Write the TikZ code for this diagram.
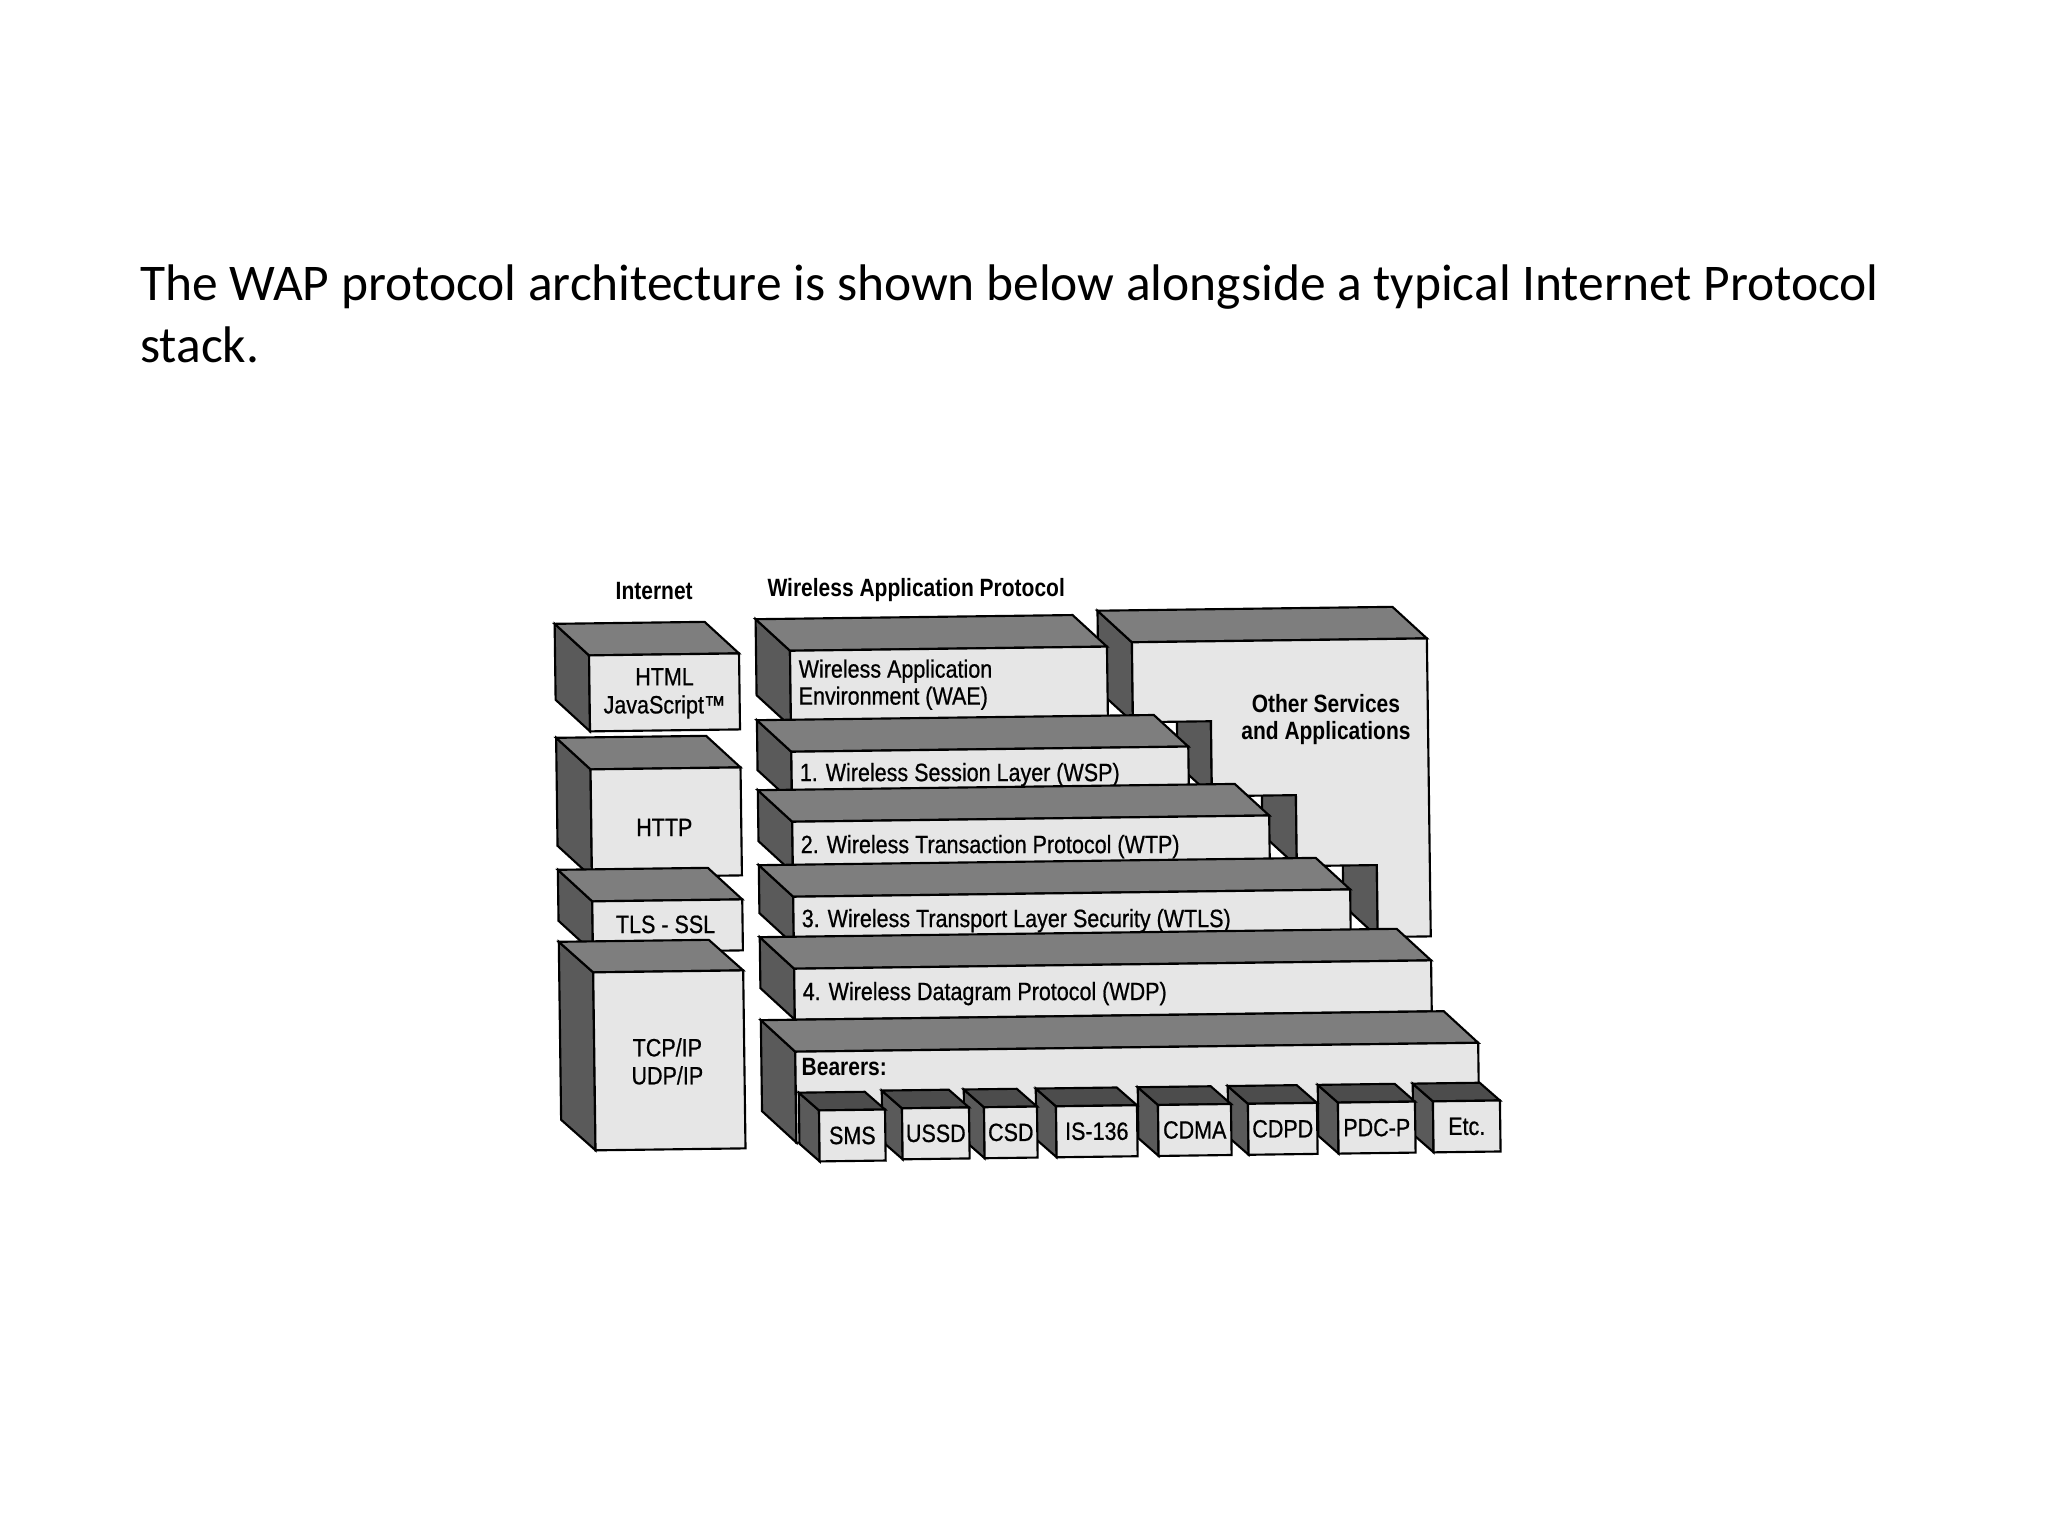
\documentclass[tikz,border=0pt]{standalone}
\usepackage{fontspec}
\setmainfont{Carlito}
\newfontfamily\condfont[FakeStretch=0.86, FakeBold=0.7]{Liberation Sans}
\newfontfamily\labelfont[FakeStretch=0.84]{Liberation Sans}
\definecolor{frontc}{HTML}{E6E6E6}
\definecolor{topc}{HTML}{7E7E7E}
\definecolor{sidec}{HTML}{5A5A5A}
\definecolor{smalltopc}{HTML}{4C4C4C}
\tikzset{
  face/.style={draw=black, line width=1.6pt, line join=miter},
  frontface/.style={face, fill=frontc},
  topface/.style={face, fill=topc},
  sideface/.style={face, fill=sidec},
  smalltop/.style={face, fill=smalltopc},
  boxtext/.style={inner sep=0pt, font=\condfont\fontsize{18.75}{21}\selectfont, text=black},
  labeltext/.style={inner sep=0pt, font=\labelfont\bfseries\fontsize{18.75}{20.5}\selectfont, text=black},
  titletext/.style={inner sep=0pt, font=\fontsize{38.6}{46}\selectfont, text=black},
}
% #1 left x, #2 top y, #3 right x, #4 bottom y, #5 depth x, #6 depth y, #7 style of top face
\newcommand{\drawslab}[7]{%
  \filldraw[sideface] (#1,#2) -- ({#1-#5},{#2-#6}) -- ({#1-#5},{#4-#6}) -- (#1,#4) -- cycle;
  \filldraw[#7] (#1,#2) -- ({#1-#5},{#2-#6}) -- ({#3-#5},{#2-#6}) -- (#3,#2) -- cycle;
  \filldraw[frontface] (#1,#2) rectangle (#3,#4);
}
\begin{document}
\begin{tikzpicture}[x=0.75pt, y=-0.75pt]
\useasboundingbox (0,0) rectangle (2048,1536);
\fill[white] (0,0) rectangle (2048,1536);

\node[titletext, anchor=base west] (title1) at (140,300) {The WAP protocol architecture is shown below alongside a typical Internet Protocol};
\node[titletext, anchor=base west] (title2) at (140,362) {stack.};

\begin{scope}[rotate around={0.75:(1000,880)}]
  % column headings
  \node[labeltext] (inet) at (658,586) {Internet};
  \node[labeltext] (waplabel) at (920,589) {Wireless Application Protocol};

  % Internet stack
  \drawslab{592}{650}{742}{726}{34}{32}{topface}
  \drawslab{592}{764}{742}{872}{34}{32}{topface}
  \drawslab{592}{896}{742}{947}{34}{32}{topface}
  \drawslab{592}{967}{742}{1145}{34}{31}{topface}
  \node[boxtext, align=center] (html) at (667,689) {HTML\\JavaScript™};
  \node[boxtext] (http) at (665,823) {HTTP};
  \node[boxtext] (tls) at (665,920) {TLS - SSL};
  \node[boxtext, align=center] (tcp) at (665,1057) {TCP/IP\\UDP/IP};

  % Other services block (stepped)
  \filldraw[sideface] (1135,644) -- (1101,612) -- (1101,692) -- (1135,724) -- cycle;
  \filldraw[sideface] (1213,724) -- (1179,692) -- (1179,767) -- (1213,799) -- cycle;
  \filldraw[sideface] (1297,799) -- (1263,767) -- (1263,838) -- (1297,870) -- cycle;
  \filldraw[sideface] (1377,870) -- (1343,838) -- (1343,910) -- (1377,942) -- cycle;
  \filldraw[topface] (1135,644) -- (1101,612) -- (1396,612) -- (1430,644) -- cycle;
  \filldraw[frontface] (1135,644) -- (1430,644) -- (1430,942) -- (1377,942) -- (1377,870)
     -- (1297,870) -- (1297,799) -- (1213,799) -- (1213,724) -- (1135,724) -- cycle;
  \node[labeltext, align=center, font=\labelfont\bfseries\fontsize{18.75}{20.25}\selectfont] (other) at (1328,724) {Other Services\\and Applications};

  % WAP layers
  \drawslab{793}{648}{1110}{724}{34}{32}{topface}
  \node[boxtext, anchor=west, align=left, font=\condfont\fontsize{18.75}{20.25}\selectfont] (wae) at (801,682) {Wireless Application\\Environment (WAE)};
  \drawslab{793}{749}{1190}{799}{34}{32}{topface}
  \node[boxtext, anchor=west] (wsp) at (801,772) {1. Wireless Session Layer (WSP)};
  \drawslab{793}{819}{1270}{870}{34}{32}{topface}
  \node[boxtext, anchor=west] (wtp) at (801,844) {2. Wireless Transaction Protocol (WTP)};
  \drawslab{793}{894}{1350}{942}{34}{32}{topface}
  \node[boxtext, anchor=west] (wtls) at (801,918) {3. Wireless Transport Layer Security (WTLS)};
  \drawslab{793}{966}{1430}{1017}{34}{32}{topface}
  \node[boxtext, anchor=west] (wdp) at (801,991) {4. Wireless Datagram Protocol (WDP)};
  \drawslab{793}{1049}{1476}{1140}{34}{32}{topface}
  \node[labeltext, anchor=west] (bearers) at (799,1064) {Bearers:};

  % bearer boxes (right to left)
  \drawslab{1430}{1107}{1497}{1158}{20}{18}{smalltop}
  \node[boxtext] (etc) at (1463.5,1132.5) {Etc.};
  \drawslab{1335}{1107}{1412}{1158}{20}{18}{smalltop}
  \node[boxtext] (pdcp) at (1373.5,1132.5) {PDC-P};
  \drawslab{1245}{1107}{1314}{1158}{20}{18}{smalltop}
  \node[boxtext] (cdpd) at (1279.5,1132.5) {CDPD};
  \drawslab{1155}{1107}{1228}{1158}{20}{18}{smalltop}
  \node[boxtext] (cdma) at (1191.5,1132.5) {CDMA};
  \drawslab{1053}{1107}{1134}{1158}{20}{18}{smalltop}
  \node[boxtext] (is136) at (1093.5,1132.5) {IS-136};
  \drawslab{981}{1107}{1034}{1158}{20}{18}{smalltop}
  \node[boxtext] (csd) at (1007.5,1132.5) {CSD};
  \drawslab{899}{1107}{966}{1158}{20}{18}{smalltop}
  \node[boxtext] (ussd) at (932.5,1132.5) {USSD};
  \drawslab{816}{1108}{882}{1159}{20}{18}{smalltop}
  \node[boxtext] (sms) at (849,1133.5) {SMS};
\end{scope}
\end{tikzpicture}
\end{document}
